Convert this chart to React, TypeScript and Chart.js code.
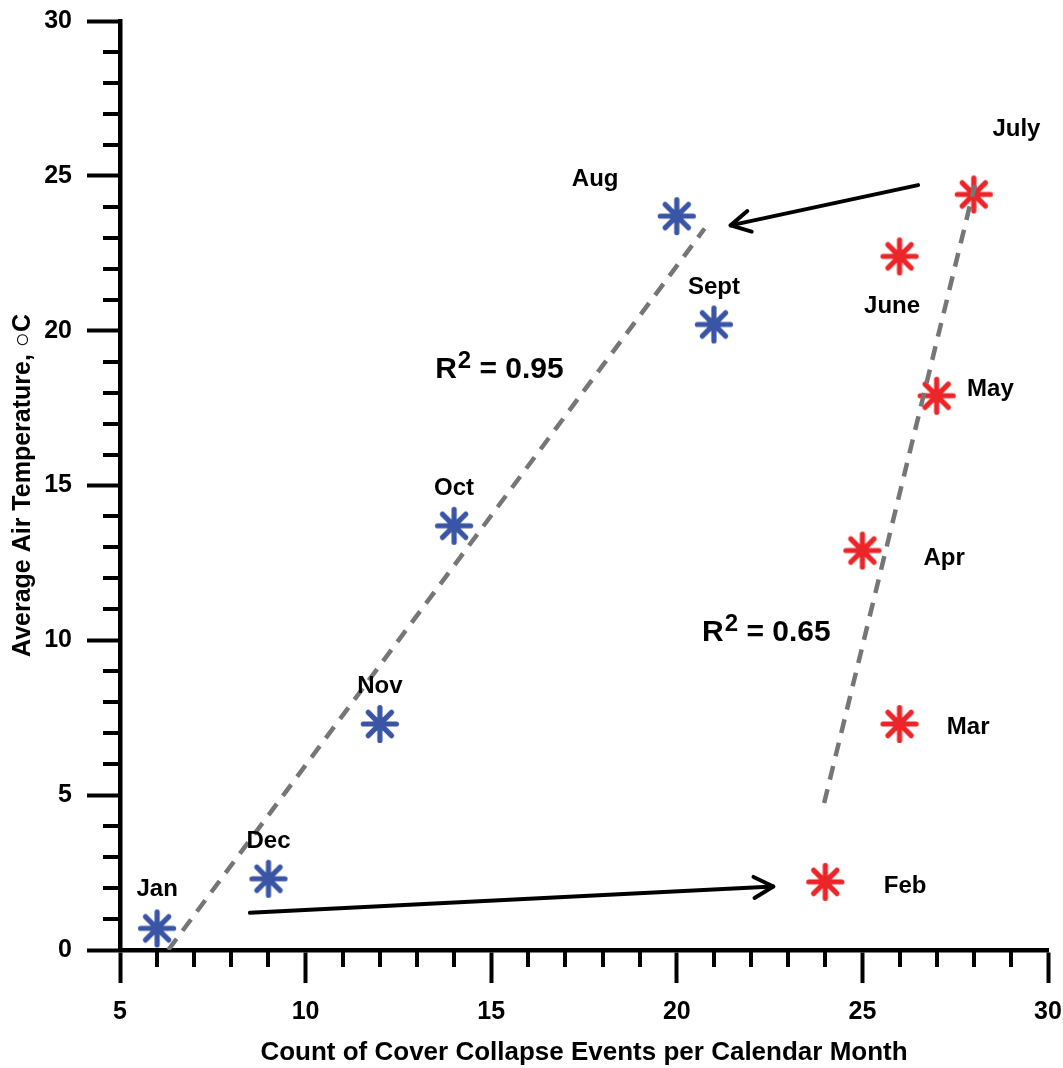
import React, { useEffect, useRef } from 'react';
import { Chart, registerables } from 'chart.js';

Chart.register(...registerables);

const FONT = '"Liberation Sans", Arial, Helvetica, sans-serif';

// Winter/autumn months (blue) and spring/summer months (red)
const blueMonths = ['Jan', 'Dec', 'Nov', 'Oct', 'Sept', 'Aug'];
const blueCounts = [6, 9, 12, 14, 21, 20];
const blueTemps = [0.7, 2.3, 7.3, 13.7, 20.2, 23.7];

const redMonths = ['Feb', 'Mar', 'Apr', 'May', 'June', 'July'];
const redCounts = [24, 26, 25, 27, 26, 28];
const redTemps = [2.2, 7.3, 12.9, 17.9, 22.4, 24.4];

// Month label anchor points (data coordinates)
const blueLabelX = [6, 9, 12, 14, 21, 17.8];
const blueLabelY = [1.95, 3.5, 8.5, 14.9, 21.4, 24.9];
const redLabelX = [26.15, 27.85, 27.2, 28.45, 25.8, 29.15];
const redLabelY = [2.05, 7.2, 12.65, 18.1, 20.8, 26.5];

// Regression (trend) lines
const blueTrendX = [6.3, 20.75];
const blueTrendY = [0, 23.3];
const redTrendX = [23.97, 28.03];
const redTrendY = [4.75, 24.7];

// R-squared annotations
const r2Values = ['0.95', '0.65'];
const r2X = [13.49, 20.68];
const r2Y = [18.47, 9.98];

// Arrows (start -> end)
const arrowTopX = [26.5, 21.45];
const arrowTopY = [24.7, 23.4];
const arrowBottomX = [8.5, 22.6];
const arrowBottomY = [1.2, 2.05];

// Axes
const xMin = 5;
const xMax = 30;
const yMin = 0;
const yMax = 30;
const majorStep = 5;

const BLUE = '#3b55a6';
const RED = '#ec2529';
const GRAY = '#767676';

const pts = (xs: number[], ys: number[]) => xs.map((x, i) => ({ x, y: ys[i] }));

function makeStar(color: string): HTMLCanvasElement {
  const size = 40;
  const c = document.createElement('canvas');
  c.width = size;
  c.height = size;
  const g = c.getContext('2d') as CanvasRenderingContext2D;
  const cx = size / 2;
  const r = 16.5;
  g.strokeStyle = color;
  g.fillStyle = color;
  g.lineWidth = 5.2;
  g.lineCap = 'round';
  for (let k = 0; k < 4; k++) {
    const a = (k * Math.PI) / 4;
    g.beginPath();
    g.moveTo(cx - r * Math.cos(a), cx - r * Math.sin(a));
    g.lineTo(cx + r * Math.cos(a), cx + r * Math.sin(a));
    g.stroke();
  }
  // thicker core: filled 8-point star
  g.beginPath();
  for (let k = 0; k < 16; k++) {
    const a = (k * Math.PI) / 8;
    const rr = k % 2 === 0 ? 12 : 6.5;
    const px = cx + rr * Math.cos(a);
    const py = cx + rr * Math.sin(a);
    if (k === 0) g.moveTo(px, py);
    else g.lineTo(px, py);
  }
  g.closePath();
  g.fill();
  return c;
}

const decorPlugin = {
  id: 'decor',
  afterDraw(chart: any) {
    const ctx = chart.ctx as CanvasRenderingContext2D;
    const xs = chart.scales.x;
    const ys = chart.scales.y;
    const area = chart.chartArea;
    ctx.save();
    // minor ticks
    ctx.strokeStyle = '#000';
    ctx.lineWidth = 4;
    for (let v = xMin + 1; v < xMax; v++) {
      if (v % majorStep === 0) continue;
      const px = Math.round(xs.getPixelForValue(v));
      ctx.beginPath();
      ctx.moveTo(px, area.bottom);
      ctx.lineTo(px, area.bottom + 17);
      ctx.stroke();
    }
    for (let v = yMin + 1; v < yMax; v++) {
      if (v % majorStep === 0) continue;
      const py = Math.round(ys.getPixelForValue(v));
      ctx.beginPath();
      ctx.moveTo(area.left, py);
      ctx.lineTo(area.left - 17, py);
      ctx.stroke();
    }

    // arrowheads
    const heads = [
      [arrowTopX, arrowTopY],
      [arrowBottomX, arrowBottomY],
    ];
    ctx.lineWidth = 4;
    ctx.lineCap = 'round';
    ctx.lineJoin = 'round';
    heads.forEach(([ax, ay]) => {
      const x0 = xs.getPixelForValue(ax[0]);
      const y0 = ys.getPixelForValue(ay[0]);
      const x1 = xs.getPixelForValue(ax[1]);
      const y1 = ys.getPixelForValue(ay[1]);
      const ang = Math.atan2(y1 - y0, x1 - x0);
      const len = 22;
      const spread = 0.5;
      ctx.beginPath();
      ctx.moveTo(x1 - len * Math.cos(ang - spread), y1 - len * Math.sin(ang - spread));
      ctx.lineTo(x1, y1);
      ctx.lineTo(x1 - len * Math.cos(ang + spread), y1 - len * Math.sin(ang + spread));
      ctx.stroke();
    });

    // month labels
    ctx.fillStyle = '#000';
    ctx.font = `bold 24px ${FONT}`;
    ctx.textAlign = 'center';
    ctx.textBaseline = 'middle';
    blueMonths.forEach((m, i) => {
      ctx.fillText(m, xs.getPixelForValue(blueLabelX[i]), ys.getPixelForValue(blueLabelY[i]));
    });
    redMonths.forEach((m, i) => {
      ctx.fillText(m, xs.getPixelForValue(redLabelX[i]), ys.getPixelForValue(redLabelY[i]));
    });

    // R^2 labels
    ctx.textAlign = 'left';
    ctx.textBaseline = 'alphabetic';
    r2Values.forEach((val, i) => {
      let px = xs.getPixelForValue(r2X[i]);
      const py = ys.getPixelForValue(r2Y[i]);
      ctx.font = `bold 30px ${FONT}`;
      ctx.fillText('R', px, py);
      px += ctx.measureText('R').width + 1;
      ctx.font = `bold 24px ${FONT}`;
      ctx.fillText('2', px, py - 10);
      px += ctx.measureText('2').width;
      ctx.font = `bold 30px ${FONT}`;
      ctx.fillText(' = ' + val, px, py);
    });
    ctx.restore();
  },
};

export default function App() {
  const ref = useRef<HTMLCanvasElement | null>(null);

  useEffect(() => {
    document.body.style.margin = '0';
    if (!ref.current) return;
    const blueStar = makeStar(BLUE);
    const redStar = makeStar(RED);
    const chart = new Chart(ref.current, {
      type: 'scatter',
      data: {
        datasets: [
          {
            label: 'Trend Aug-Jan',
            data: pts(blueTrendX, blueTrendY),
            showLine: true,
            borderColor: GRAY,
            borderWidth: 4.5,
            borderDash: [14, 10],
            pointRadius: 0,
          },
          {
            label: 'Trend Feb-July',
            data: pts(redTrendX, redTrendY),
            showLine: true,
            borderColor: GRAY,
            borderWidth: 4.5,
            borderDash: [14, 10],
            pointRadius: 0,
          },
          {
            label: 'Arrow top',
            data: pts(arrowTopX, arrowTopY),
            showLine: true,
            borderColor: '#000',
            borderWidth: 4,
            borderCapStyle: 'round',
            pointRadius: 0,
          },
          {
            label: 'Arrow bottom',
            data: pts(arrowBottomX, arrowBottomY),
            showLine: true,
            borderColor: '#000',
            borderWidth: 4,
            borderCapStyle: 'round',
            pointRadius: 0,
          },
          {
            label: 'Aug-Jan',
            data: pts(blueCounts, blueTemps),
            pointStyle: blueStar,
            pointRadius: 17,
            borderColor: BLUE,
            backgroundColor: BLUE,
          },
          {
            label: 'Feb-July',
            data: pts(redCounts, redTemps),
            pointStyle: redStar,
            pointRadius: 17,
            borderColor: RED,
            backgroundColor: RED,
          },
        ],
      },
      options: {
        animation: false,
        responsive: true,
        maintainAspectRatio: false,
        layout: { autoPadding: false, padding: { top: 21, right: 15, bottom: 0, left: 0 } },
        plugins: {
          legend: { display: false },
          tooltip: { enabled: false },
        },
        scales: {
          x: {
            type: 'linear',
            min: xMin,
            max: xMax,
            ticks: {
              stepSize: majorStep,
              color: '#000',
              padding: 14,
              maxRotation: 0,
              font: { family: FONT, size: 25, weight: 'bold' },
            },
            grid: {
              display: true,
              drawOnChartArea: false,
              drawTicks: true,
              tickLength: 33,
              tickWidth: 4,
              tickColor: '#000',
            },
            border: { display: true, color: '#000', width: 4.5 },
            title: {
              display: true,
              text: 'Count of Cover Collapse Events per Calendar Month',
              color: '#000',
              font: { family: FONT, size: 26, weight: 'bold' },
              padding: { top: 0, bottom: 0 },
            },
            afterFit: (scale: any) => {
              scale.height = 118;
              scale.paddingLeft = 0;
              scale.paddingRight = 0;
            },
          },
          y: {
            type: 'linear',
            min: yMin,
            max: yMax,
            ticks: {
              stepSize: majorStep,
              color: '#000',
              padding: 15,
              font: { family: FONT, size: 25, weight: 'bold' },
            },
            grid: {
              display: true,
              drawOnChartArea: false,
              drawTicks: true,
              tickLength: 33,
              tickWidth: 4,
              tickColor: '#000',
            },
            border: { display: true, color: '#000', width: 4.5 },
            title: {
              display: true,
              text: 'Average Air Temperature, \u25CBC',
              color: '#000',
              font: { family: FONT, size: 25, weight: 'bold' },
              padding: { top: 8, bottom: 0 },
            },
            afterFit: (scale: any) => {
              scale.width = 120;
              scale.paddingTop = 0;
              scale.paddingBottom = 0;
            },
          },
        },
      },
      plugins: [decorPlugin],
    } as any);
    return () => chart.destroy();
  }, []);

  return (
    <div style={{ width: 1063, height: 1068, position: 'relative' }}>
      <canvas ref={ref} />
    </div>
  );
}
